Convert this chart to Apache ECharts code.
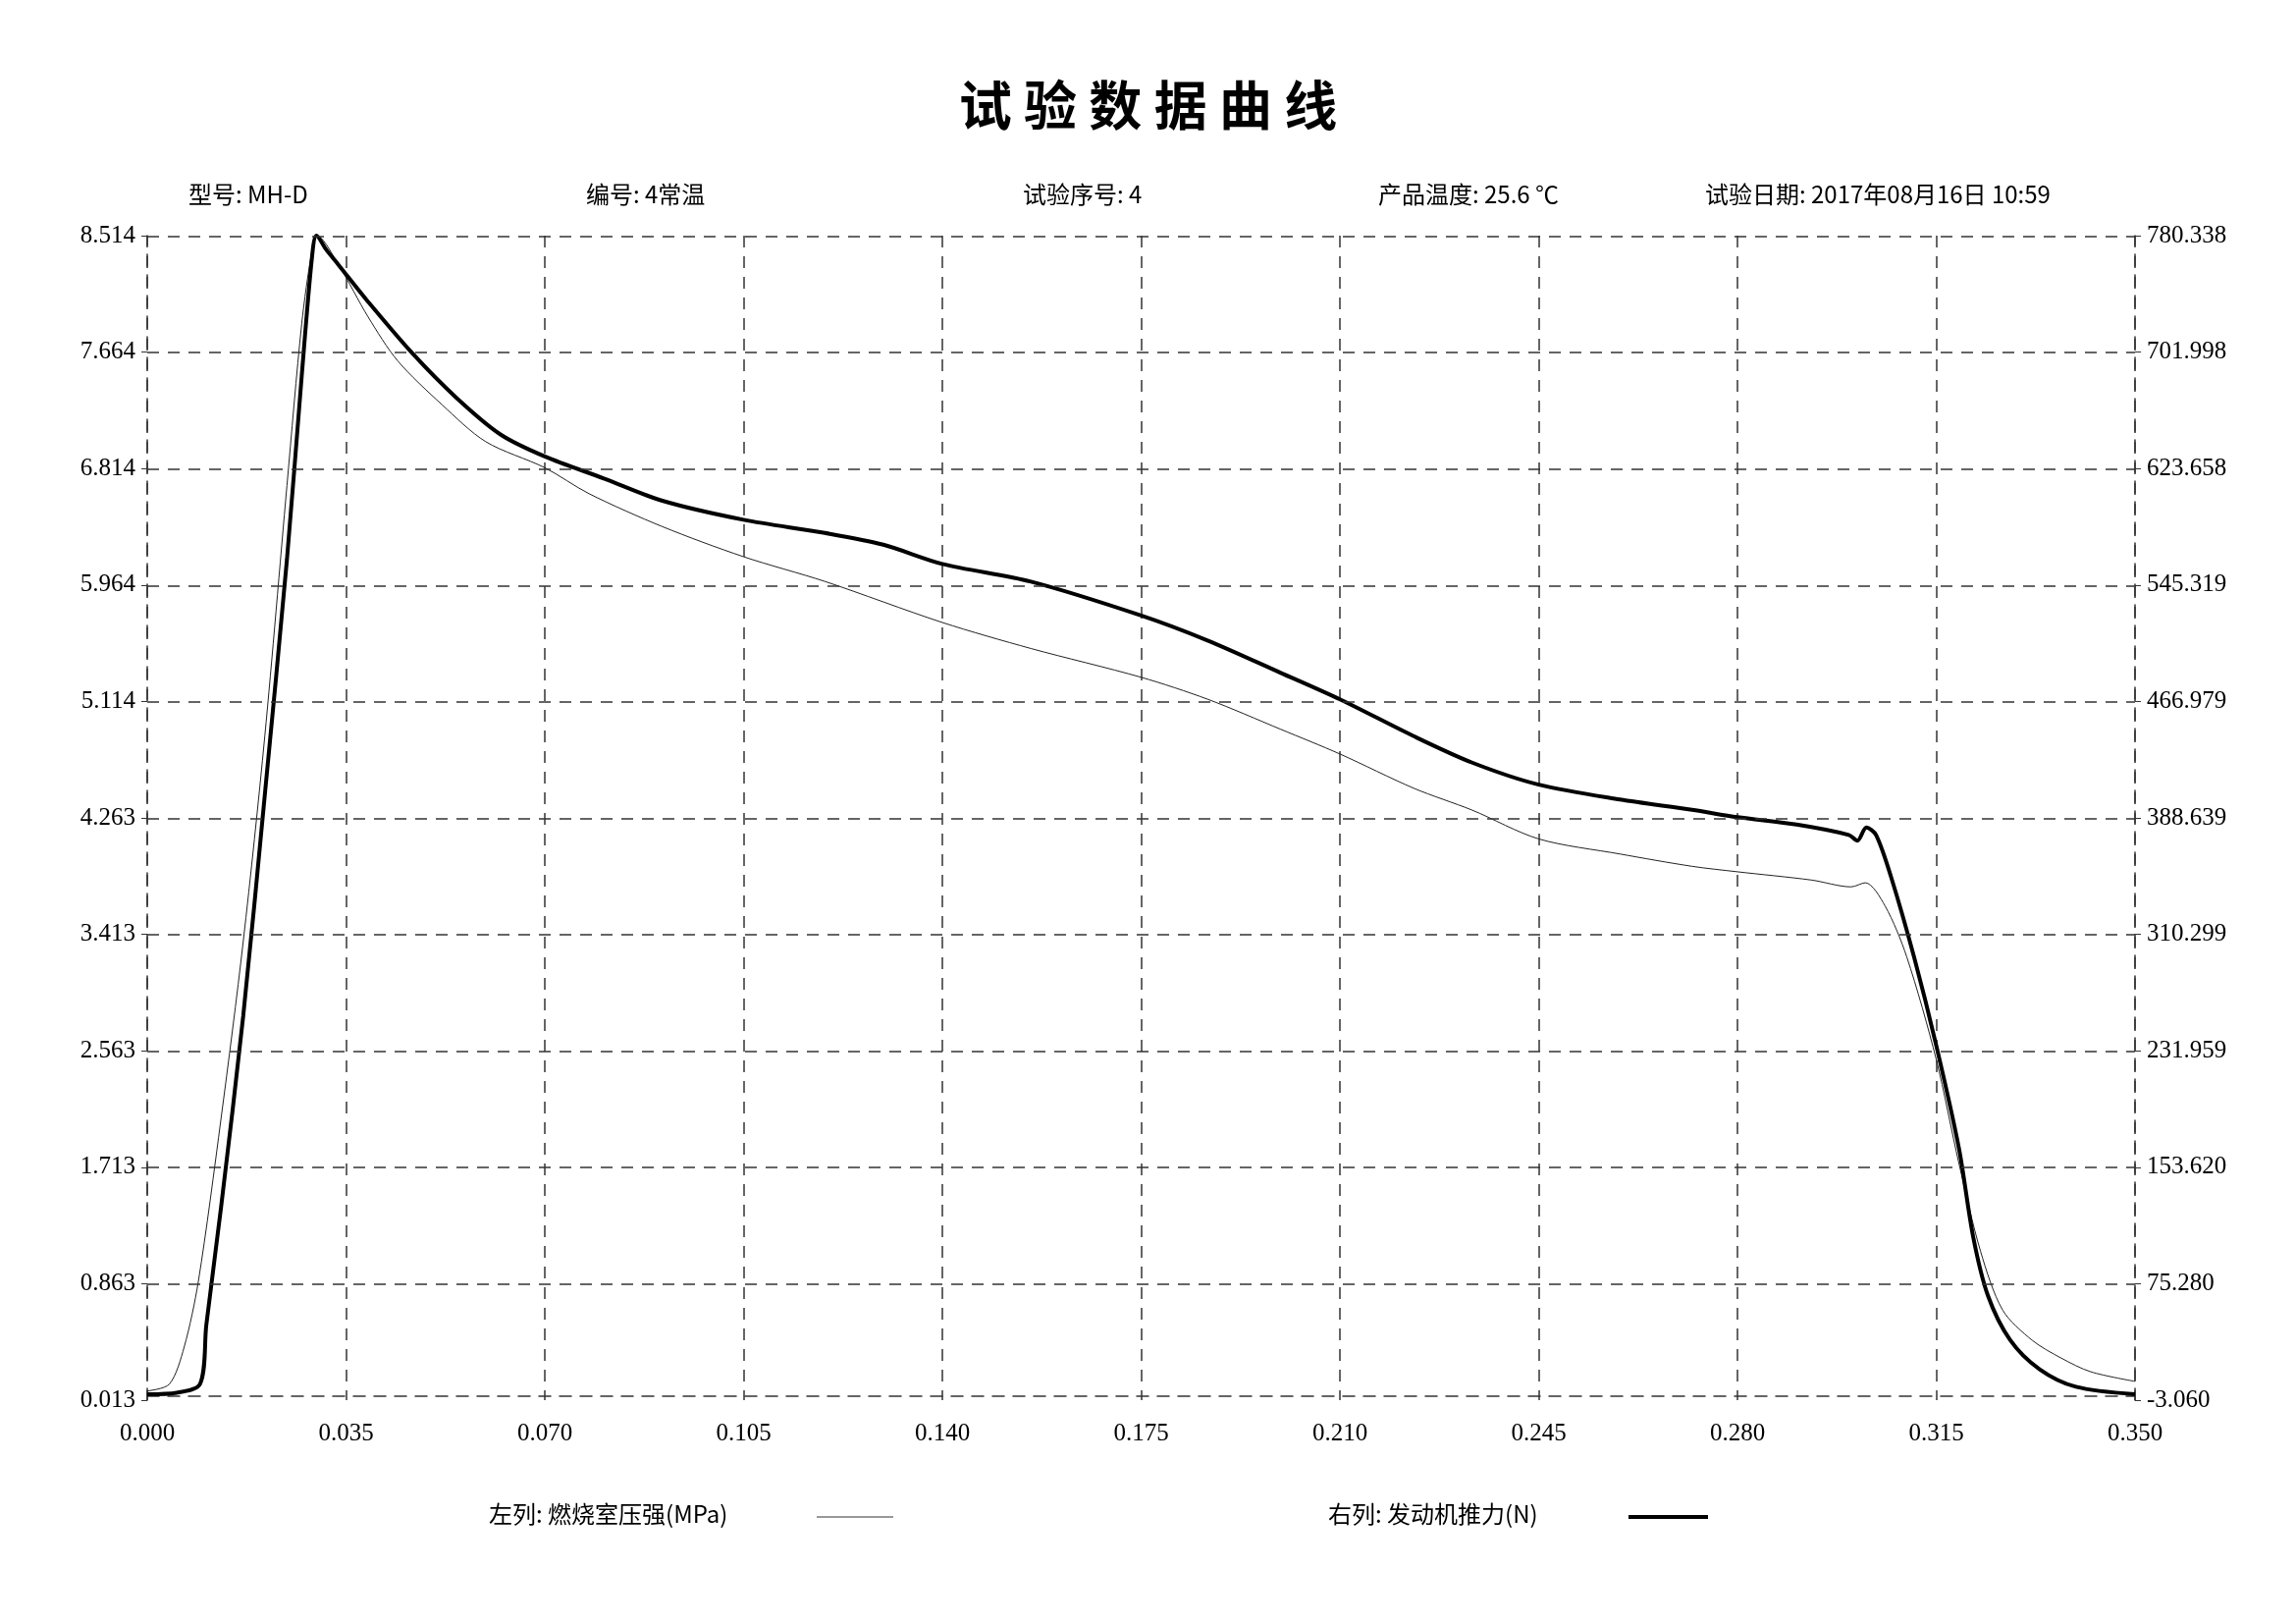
<!DOCTYPE html>
<html>
<head>
<meta charset="utf-8">
<script src="https://cdn.jsdelivr.net/npm/echarts@6/dist/echarts.min.js"></script>
<style>html,body{margin:0;background:#fff}#c{width:2339px;height:1654px}</style>
</head>
<body>
<div id="c"></div>
<script>
// 燃烧室压强 (MPa), left axis: [t, value]
var pressure = [
  [0,0.08],[0.0039,0.13],[0.0065,0.40],[0.009,0.88],[0.013,2.07],[0.0169,3.36],[0.0207,4.86],
  [0.0246,6.69],[0.0272,7.87],[0.029,8.40],[0.030,8.51],[0.0337,8.30],[0.0389,7.92],[0.0441,7.60],
  [0.0519,7.28],[0.0596,7.01],[0.070,6.82],[0.0778,6.63],[0.0907,6.39],[0.105,6.17],[0.1193,5.99],
  [0.140,5.69],[0.1556,5.50],[0.175,5.29],[0.1867,5.13],[0.1996,4.91],[0.210,4.73],[0.223,4.48],
  [0.2333,4.32],[0.245,4.11],[0.2593,4.00],[0.272,3.91],[0.280,3.87],[0.293,3.81],[0.300,3.76],
  [0.3025,3.79],[0.306,3.62],[0.3098,3.25],[0.315,2.50],[0.319,1.74],[0.3228,1.10],[0.3267,0.67],
  [0.3319,0.45],[0.337,0.32],[0.3422,0.22],[0.350,0.15]
];
// 发动机推力 (N), right axis
var thrust = [
  [0,0.9],[0.0052,1.9],[0.0093,7.8],[0.0104,47.5],[0.013,126.7],[0.0169,255.4],[0.0207,404],
  [0.0246,562.5],[0.0272,686],[0.029,765.5],[0.0298,780.3],[0.0316,770.5],[0.0337,760.6],
  [0.0389,735.8],[0.0467,701.1],[0.0544,671.4],[0.0622,646.6],[0.070,631.8],[0.0804,617],
  [0.0907,602],[0.105,589.2],[0.1193,580.3],[0.1296,572.4],[0.140,559.5],[0.1556,547.6],
  [0.175,524.8],[0.1867,508],[0.1996,486.2],[0.210,468.4],[0.223,443.6],[0.2333,425.8],
  [0.245,411],[0.2593,401],[0.272,394.1],[0.280,389.1],[0.2904,384.2],[0.2996,377.2],
  [0.3011,373.3],[0.3027,382.2],[0.3044,377.2],[0.307,349.5],[0.3111,295],[0.315,235.6],
  [0.319,166.3],[0.3215,106.9],[0.3241,67.3],[0.328,37.5],[0.3332,17.7],[0.3396,5.9],[0.350,0.9]
];
var leftTicks = [0.013,0.863,1.713,2.563,3.413,4.263,5.114,5.964,6.814,7.664,8.514];
var rightTicks = [-3.060,75.280,153.620,231.959,310.299,388.639,466.979,545.319,623.658,701.998,780.338];
var headers = ['型号: MH-D','编号: 4常温','试验序号: 4','产品温度: 25.6 ℃','试验日期: 2017年08月16日 10:59'];
var headerX = [192,597,1042,1404,1737];

var font = '"Liberation Serif","Noto Sans CJK SC",serif';
var cjk = '"Noto Sans CJK SC",serif';
var dash = {color:'#333', type:[12,9], width:1.5};

var chart = echarts.init(document.getElementById('c'));
var graphics = [{
  type:'text', left:'center', top:80,
  style:{text:'试 验 数 据 曲 线', font:'bold 54px '+cjk, fill:'#000'}
}];
headers.forEach(function (h, i) {
  graphics.push({type:'text', x:headerX[i], y:186, style:{text:h, font:'24px '+cjk, fill:'#000'}});
});
graphics.push(
  {type:'text', x:498, y:1530, style:{text:'左列: 燃烧室压强(MPa)', font:'24px '+cjk, fill:'#000'}},
  {type:'line', shape:{x1:832,y1:1545,x2:910,y2:1545}, style:{stroke:'#333',lineWidth:1}},
  {type:'text', x:1353, y:1530, style:{text:'右列: 发动机推力(N)', font:'24px '+cjk, fill:'#000'}},
  {type:'line', shape:{x1:1659,y1:1545,x2:1740,y2:1545}, style:{stroke:'#000',lineWidth:4}}
);

chart.setOption({
  animation:false,
  backgroundColor:'#fff',
  graphic:graphics,
  grid:{left:150, right:164, top:240, bottom:228},
  xAxis:{
    type:'value', min:0, max:0.35, interval:0.035,
    axisLine:{show:true, lineStyle:dash},
    axisTick:{show:false},
    axisLabel:{formatter:function(v){return v.toFixed(3);}, fontSize:25, fontFamily:font, color:'#000', margin:22},
    splitLine:{show:true, lineStyle:dash}
  },
  yAxis:[{
    type:'value', min:0.013, max:8.514, position:'left',
    axisLine:{show:true, lineStyle:dash},
    axisTick:{show:true, customValues:leftTicks, length:6, lineStyle:{color:'#333'}},
    axisLabel:{customValues:leftTicks, formatter:function(v){return v.toFixed(3);}, fontSize:25, fontFamily:font, color:'#000', margin:12},
    splitLine:{show:false}
  },{
    type:'value', min:-3.06, max:780.338, position:'right',
    axisLine:{show:true, lineStyle:dash},
    axisTick:{show:true, customValues:rightTicks, length:6, lineStyle:{color:'#333'}},
    axisLabel:{customValues:rightTicks, formatter:function(v){return v.toFixed(3);}, fontSize:25, fontFamily:font, color:'#000', margin:12},
    splitLine:{show:false}
  }],
  series:[{
    type:'line', yAxisIndex:0, data:pressure, showSymbol:false, smooth:0.3,
    lineStyle:{color:'#222', width:1},
    markLine:{silent:true, symbol:'none', label:{show:false}, lineStyle:dash,
      data:leftTicks.slice(1).map(function(v){return {yAxis:v};})}
  },{
    type:'line', yAxisIndex:1, data:thrust, showSymbol:false, smooth:0.3,
    lineStyle:{color:'#000', width:4}
  }]
});
</script>
</body>
</html>
